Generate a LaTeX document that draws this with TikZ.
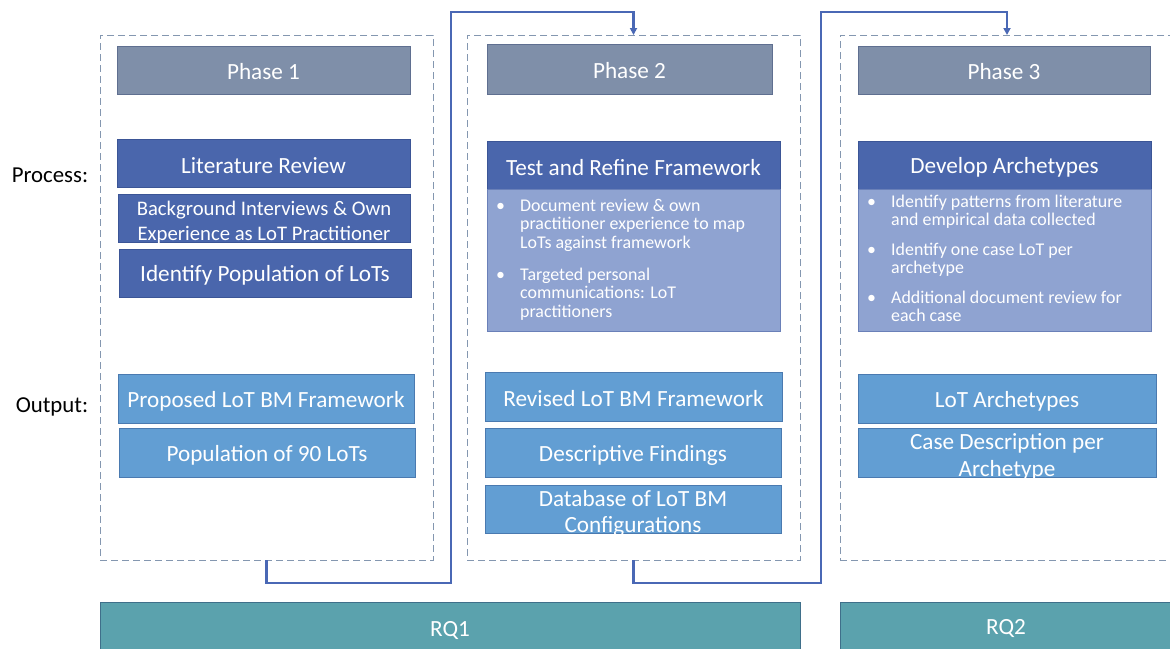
\documentclass[tikz,border=0pt]{standalone}
\usepackage{fontspec}
\setmainfont{Carlito}
\usetikzlibrary{arrows.meta}
\definecolor{hdrcol}{HTML}{7F8FA9}
\definecolor{hdrline}{HTML}{5F6F90}
\definecolor{dbluecol}{HTML}{4A66AC}
\definecolor{dblueline}{HTML}{3B5596}
\definecolor{lbluecol}{HTML}{8FA3D1}
\definecolor{lblueline}{HTML}{6A80B8}
\definecolor{obluecol}{HTML}{629ED3}
\definecolor{oblueline}{HTML}{4A7AB0}
\definecolor{tealcol}{HTML}{5BA2AD}
\definecolor{tealline}{HTML}{3F6F8A}
\definecolor{dashcol}{HTML}{8497B0}
\definecolor{conncol}{HTML}{4A68B5}
\tikzset{
  boxbase/.style={anchor=north west, inner sep=0pt, outer sep=0pt, line width=0.8pt},
  lbl/.style={text=white, align=center, font=\fontsize{23.2}{26}\selectfont, yshift=-2.5pt},
  lbltwo/.style={lbl, yshift=-1.5pt},
  hdrbox/.style={boxbase, fill=hdrcol, draw=hdrline},
  procbox/.style={boxbase, fill=dbluecol, draw=dblueline},
  bodybox/.style={boxbase, fill=lbluecol, draw=lblueline},
  outbox/.style={boxbase, fill=obluecol, draw=oblueline},
  rqbox/.style={boxbase, fill=tealcol, draw=tealline},
  phasebox/.style={anchor=north west, inner sep=0pt, outer sep=0pt, draw=dashcol, line width=0.9pt, dash pattern=on 7pt off 4pt},
  bullettext/.style={anchor=north west, inner sep=0pt, text=white, align=left, font=\fontsize{17.9}{18.5}\selectfont},
  sidelabel/.style={text=black, font=\fontsize{22.8}{26}\selectfont},
  conn/.style={draw=conncol, line width=2.2pt, -{Triangle[length=7pt,width=7pt]}},
}
\begin{document}
\begin{tikzpicture}[x=1pt,y=-1pt]
\useasboundingbox (0,0) rectangle (1170,648);

% phase frames
\node[phasebox, minimum width=333pt, minimum height=525pt] (ph1box) at (100,35) {};
\node[phasebox, minimum width=333pt, minimum height=525pt] (ph2box) at (467,35) {};
\node[phasebox, minimum width=334pt, minimum height=525pt] (ph3box) at (840,35) {};

% headers
\node[hdrbox, minimum width=293pt, minimum height=48pt, label={[lbl, yshift=1pt]center:Phase 1}] (h1) at (117,46) {};
\node[hdrbox, minimum width=285pt, minimum height=50pt, label={[lbl, yshift=1pt]center:Phase 2}] (h2) at (487,44) {};
\node[hdrbox, minimum width=292pt, minimum height=48pt, label={[lbl, yshift=1pt]center:Phase 3}] (h3) at (858,46) {};

% side labels
\node[sidelabel] (lproc) at (50,175) {Process:};
\node[sidelabel] (lout) at (52,407) {Output:};

% process phase 1
\node[procbox, minimum width=293pt, minimum height=48pt, label={[lbl]center:Literature Review}] (lit) at (117,139) {};
\node[procbox, minimum width=292pt, minimum height=48pt, label={[lbltwo, font=\fontsize{20.7}{25}\selectfont]center:Background Interviews \& Own\\Experience as LoT Practitioner}] (bg) at (118,194) {};
\node[procbox, minimum width=292pt, minimum height=48pt, label={[lbl]center:Identify Population of LoTs}] (idp) at (119,249) {};

% process phase 2
\node[procbox, minimum width=293pt, minimum height=48pt, label={[lbl]center:Test and Refine Framework}] (tr) at (487,141) {};
\node[bodybox, minimum width=293pt, minimum height=142pt] (trb) at (487,189) {};
\node[bullettext] (trt) at (496,198) {%
\begin{tabular}{@{}p{24pt}@{}l@{}}
\textbullet & Document review \& own\\
 & practitioner experience to map\\
 & LoTs against framework\\[13.5pt]
\textbullet & Targeted personal\\
 & communications: LoT\\
 & practitioners
\end{tabular}};

% process phase 3
\node[procbox, minimum width=293pt, minimum height=48pt, label={[lbl]center:Develop Archetypes}] (da) at (858,141) {};
\node[bodybox, minimum width=293pt, minimum height=142pt] (dab) at (858,189) {};
\node[bullettext, font=\fontsize{17.9}{18}\selectfont] (dat) at (867,195) {%
\begin{tabular}{@{}p{24pt}@{}l@{}}
\textbullet & Identify patterns from literature\\
 & and empirical data collected\\[12pt]
\textbullet & Identify one case LoT per\\
 & archetype\\[12pt]
\textbullet & Additional document review for\\
 & each case
\end{tabular}};

% outputs
\node[outbox, minimum width=296pt, minimum height=49pt, label={[lbl]center:Proposed LoT BM Framework}] (prop) at (118,374) {};
\node[outbox, minimum width=296pt, minimum height=49pt, label={[lbl]center:Population of 90 LoTs}] (pop) at (119,428) {};
\node[outbox, minimum width=297pt, minimum height=49pt, label={[lbl]center:Revised LoT BM Framework}] (rev) at (485,372) {};
\node[outbox, minimum width=296pt, minimum height=49pt, label={[lbl]center:Descriptive Findings}] (desc) at (485,428) {};
\node[outbox, minimum width=296pt, minimum height=48pt, label={[lbltwo]center:Database of LoT BM\\Configurations}] (db) at (485,485) {};
\node[outbox, minimum width=298pt, minimum height=49pt, label={[lbl]center:LoT Archetypes}] (arch) at (858,374) {};
\node[outbox, minimum width=298pt, minimum height=49pt, label={[lbltwo, font=\fontsize{23.2}{27}\selectfont]center:Case Description per\\Archetype}] (case) at (858,428) {};

% research questions
\node[rqbox, minimum width=700pt, minimum height=52pt, label={[lbl]center:RQ1}] (rq1) at (100,602) {};
\node[rqbox, minimum width=340pt, minimum height=52pt] (rq2) at (840,602) {};
\node[lbl] (rq2t) at (1006,626) {RQ2};

% connectors
\coordinate (c1) at (451,583);
\coordinate (c2) at (451,12);
\coordinate (c3) at (821,583);
\coordinate (c4) at (821,12);
\draw[conn] (ph1box.south) |- (c1) -- (c2) -| (ph2box.north);
\draw[conn] (ph2box.south) |- (c3) -- (c4) -| (ph3box.north);
\end{tikzpicture}
\end{document}
